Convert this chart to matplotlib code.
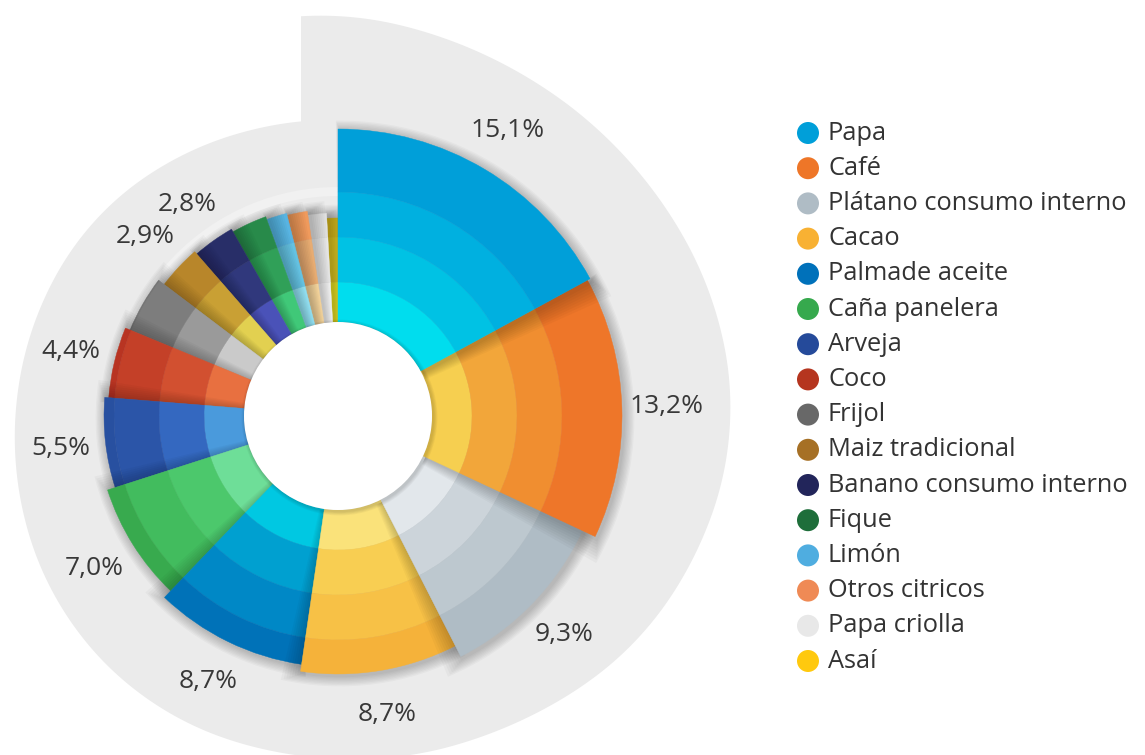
import numpy as np
import matplotlib
matplotlib.use("Agg")
import matplotlib.pyplot as plt
from matplotlib.patches import Wedge, Circle, Polygon

# ---------------- data ----------------
crops = ["Papa", "Café", "Plátano consumo interno", "Cacao", "Palmade aceite",
         "Caña panelera", "Arveja", "Coco", "Frijol", "Maiz tradicional",
         "Banano consumo interno", "Fique", "Limón", "Otros citricos",
         "Papa criolla", "Asaí"]
values = [15.1, 13.2, 9.3, 8.7, 8.7, 7.0, 5.5, 4.4, 3.6, 2.9, 2.8, 2.4, 1.4, 1.4, 1.3, 0.8]
value_labels = ["15,1%", "13,2%", "9,3%", "8,7%", "8,7%", "7,0%", "5,5%", "4,4%",
                "", "2,9%", "2,8%", "", "", "", "", ""]

# ---------------- style ----------------
legend_colors = ["#009FD9", "#EE7628", "#AFBCC5", "#F8B133", "#0071BA", "#36A94D",
                 "#254A9A", "#B5351F", "#686868", "#A67025", "#22255A", "#1E6E3A",
                 "#4FADE0", "#EF8A55", "#E8E8E8", "#FFC90E"]
band_colors = [
    ["#00DDEE", "#00C2E4", "#00B0E0", "#009FD9"],
    ["#F6CF50", "#F2A63A", "#F08E30", "#EE7629"],
    ["#E2E7EB", "#CCD4DA", "#BDC8CF", "#AFBCC5"],
    ["#FAE27A", "#F8CE52", "#F7C146", "#F5B23A"],
    ["#00C8E2", "#00A0D0", "#0088C6", "#0072B8"],
    ["#6EDE98", "#4CC86C", "#42BC5E", "#38AA4E"],
    ["#4A9ADC", "#3468C0", "#2B55A8", "#2850A0"],
    ["#E87040", "#D25030", "#C44028", "#B83422"],
    ["#CACACA", "#9A9A9A", "#7D7D7D", "#707070"],
    ["#E2D050", "#C9A034", "#B8862A", "#A87828"],
    ["#4A52B8", "#30387C", "#282E68", "#242860"],
    ["#40C878", "#30A058", "#288A4A", "#207840"],
    ["#90DEF0", "#64C2E2", "#58B4E2", "#50A8E0"],
    ["#F2D29A", "#E8AC72", "#F09A5C", "#F08850"],
    ["#F4F4F4", "#EAEAEA", "#E2E2E2", "#DADADA"],
    ["#E8E020", "#DCC420", "#D6B81C", "#D0B018"],
]
outer_radius = [287, 284, 270, 258, 251, 242, 234, 230, 225, 218, 215, 212, 209, 207, 203, 198]
band_edges = [94, 134, 179, 224]
hole_r = 94

W, H = 1145, 755
cx, cy = 338, 416  # pixel position of the chart centre

fig = plt.figure(figsize=(W / 100, H / 100), dpi=100)
ax = fig.add_axes([0, 0, 1, 1])
ax.set_xlim(-cx, W - cx)
ax.set_ylim(-(H - cy), cy)
ax.set_aspect("equal")
ax.axis("off")

# ---------------- grey spiral background ----------------
anc_deg = np.array([95.3, 81, 67, 39, 17, -2, -40, -58, -93, -123, -145, -175, -194, -220, -242, -262.8])
anc_r = np.array([403, 396, 388, 386, 392, 394, 372, 354, 341, 342, 337, 324, 318, 312, 302, 296])
th = np.linspace(95.3, -262.8, 720)
rr = np.interp(th, anc_deg[::-1], anc_r[::-1])
k = 25
pad = np.concatenate([np.full(k, rr[0]), rr, np.full(k, rr[-1])])
rr = np.convolve(pad, np.ones(2 * k + 1) / (2 * k + 1), mode="same")[k:-k]
xs = rr * np.cos(np.radians(th))
ys = rr * np.sin(np.radians(th))
xs[0] = -37
xs[-1] = -37
ax.add_patch(Polygon(np.column_stack([xs, ys]), closed=True, fc="#EBEBEB", ec="none", zorder=0))

# faint light ring behind the short slices
ax.add_patch(Wedge((0, 0), 229, 0, 360, width=9, fc="#F1F1F1", ec="none", zorder=0.5))

# ---------------- slices ----------------
total = sum(values)
spans = [v / total * 360 for v in values]
starts = [90 - sum(spans[:i]) for i in range(len(values))]
ends = [s - sp for s, sp in zip(starts, spans)]

for i in reversed(range(len(values))):
    t1, t2, ro = ends[i], starts[i], outer_radius[i]
    z = 1 + (len(values) - i) * 0.1
    # soft shadow
    for s in range(1, 9):
        ax.add_patch(Wedge((2, -2), ro + s * 1.3, t1 - s * 0.55, t2 + s * 0.1,
                           width=ro + s * 1.3 - hole_r, fc="black", alpha=0.026,
                           ec="none", zorder=z))
    edges = band_edges + [ro]
    for b in range(4):
        r_in = edges[b]
        r_out = min(edges[b + 1], ro) if b < 3 else ro
        if r_in >= ro:
            break
        ax.add_patch(Wedge((0, 0), r_out, t1, t2, width=r_out - r_in,
                           fc=band_colors[i][b], ec=band_colors[i][b], lw=0.3,
                           zorder=z + 0.01))
    if value_labels[i]:
        mid = np.radians((t1 + t2) / 2)
        rl = ro + 45
        ax.text(rl * np.cos(mid), rl * np.sin(mid), value_labels[i],
                ha="center", va="center", fontsize=19, color="#383838",
                family="Open Sans", zorder=5)

# hole
for s in range(1, 6):
    ax.add_patch(Circle((1.5, -1.5), hole_r + s * 0.8, fc="black", alpha=0.03, ec="none", zorder=3))
ax.add_patch(Circle((0, 0), hole_r, fc="white", ec="none", zorder=3.1))

# ---------------- legend ----------------
lx, ly, dy = 808 - cx, cy - 133, 35.2
for i, (name, col) in enumerate(zip(crops, legend_colors)):
    y = ly - i * dy
    ax.add_patch(Circle((lx, y), 11, fc=col, ec="none", zorder=5))
    ax.text(lx + 20, y, name, ha="left", va="center", fontsize=18.3,
            color="#333333", family="Open Sans", zorder=5)

fig.savefig("out.png", dpi=100, facecolor="white")
